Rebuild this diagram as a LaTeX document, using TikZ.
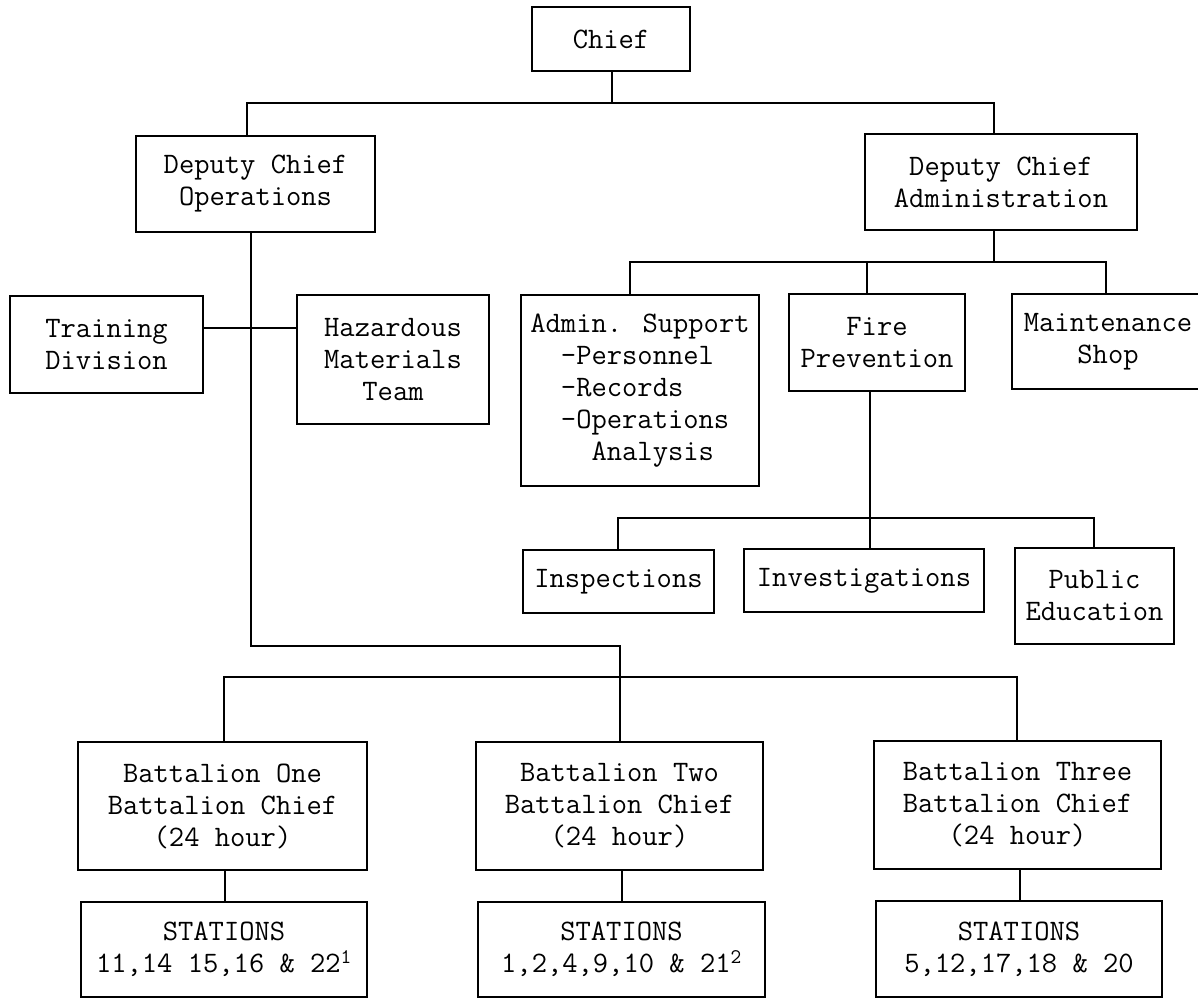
\documentclass[tikz,border=0pt]{standalone}
\usepackage{tikz}
\usetikzlibrary{calc}

\begin{document}
\begin{tikzpicture}[
    x=1pt,
    y=-1pt,
    setor/.style={
        draw,
        line width=1.8pt,
        inner sep=0pt,
        outer sep=0pt,
        anchor=north west,
        align=center,
        font=\fontsize{29.7}{32}\selectfont\ttfamily
    },
    linha/.style={
        line width=1.4pt
    }
]

\useasboundingbox (0,0) rectangle (1198,998);

% ---------------- Chief ----------------

\node[setor, minimum width=158pt, minimum height=64pt] (chief) at (532,7) {Chief};

\node[setor, minimum width=239pt, minimum height=96pt] (dco) at (136,136)
{Deputy Chief\\Operations};

\node[setor, minimum width=272pt, minimum height=96pt] (dca) at (865,134)
{Deputy Chief\\Administration};

\coordinate (jchief) at (612,103);
\coordinate (jdco) at (247,103);
\coordinate (jdca) at (994,103);

\draw[linha] (jchief |- chief.south) -- (jchief);
\draw[linha] (jdco |- dco.north) -- (jdco) -- (jdca) -- (jdca |- dca.north);

% ---------------- Operations ----------------

\node[setor, minimum width=193pt, minimum height=97pt] (train) at (10,296)
{Training\\Division};

\node[setor, minimum width=192pt, minimum height=129pt] (hazmat) at (297,295)
{Hazardous\\Materials\\Team};

\coordinate (jlink) at (251,328);

\draw[linha] (train.east |- jlink) -- (hazmat.west |- jlink);

% ---------------- Administration ----------------

\node[setor, align=left, minimum width=238pt, minimum height=191pt] (admin) at (521,295)
{Admin. Support\\
 \phantom{xx}-Personnel\\
 \phantom{xx}-Records\\
 \phantom{xx}-Operations\\
 \phantom{xxxx}Analysis};

\node[setor, minimum width=176pt, minimum height=97pt] (fireprev) at (789,294)
{Fire\\Prevention};

\node[setor, minimum width=212pt, minimum height=95pt] (maint) at (1012,294)
{Maintenance\hspace*{20pt}\\Shop\hspace*{20pt}};

\coordinate (jdcabus) at (994,262);
\coordinate (jadmin) at (630,262);
\coordinate (jfire) at (867,262);
\coordinate (jmaint) at (1106,262);

\draw[linha] (jdcabus |- dca.south) -- (jdcabus);
\draw[linha] (jadmin |- admin.north) -- (jadmin) -- (jmaint) -- (jmaint |- maint.north);
\draw[linha] (jfire) -- (jfire |- fireprev.north);

% ---------------- Fire Prevention ----------------

\node[setor, minimum width=191pt, minimum height=63pt] (insp) at (523,550)
{Inspections};

\node[setor, minimum width=240pt, minimum height=63pt] (invest) at (744,549)
{Investigations};

\node[setor, minimum width=159pt, minimum height=96pt] (pubed) at (1015,548)
{Public\\Education};

\coordinate (jfirebus) at (870,518);
\coordinate (jinsp) at (618,518);
\coordinate (jpubed) at (1094,518);

\draw[linha] (jfirebus |- fireprev.south) -- (jfirebus |- invest.north);
\draw[linha] (jinsp |- insp.north) -- (jinsp) -- (jpubed) -- (jpubed |- pubed.north);

% ---------------- Battalions ----------------

\node[setor, minimum width=289pt, minimum height=128pt] (bat1) at (78,742)
{Battalion One\\Battalion Chief\\(24 hour)};

\node[setor, minimum width=287pt, minimum height=128pt] (bat2) at (476,742)
{Battalion Two\\Battalion Chief\\(24 hour)};

\node[setor, minimum width=287pt, minimum height=128pt] (bat3) at (874,741)
{Battalion Three\\Battalion Chief\\(24 hour)};

\node[setor, minimum width=286pt, minimum height=95pt] (sta1) at (81,902)
{STATIONS\\11,14 15,16 \& 22\textsuperscript{1}};

\node[setor, minimum width=287pt, minimum height=95pt] (sta2) at (478,902)
{STATIONS\\1,2,4,9,10 \& 21\textsuperscript{2}};

\node[setor, minimum width=286pt, minimum height=96pt] (sta3) at (876,901)
{STATIONS\\5,12,17,18 \& 20};

\coordinate (jops) at (251,646);
\coordinate (jbat2) at (620,646);
\coordinate (jbat1) at (224,677);
\coordinate (jbat3) at (1017,677);

\draw[linha] (jops |- dco.south) -- (jops) -- (jbat2) -- (jbat2 |- bat2.north);
\draw[linha] (jbat1 |- bat1.north) -- (jbat1) -- (jbat3) -- (jbat3 |- bat3.north);

\foreach \b/\s in {bat1/sta1, bat2/sta2, bat3/sta3}
    \draw[linha] ([xshift=2.5pt]\b.south) -- ([xshift=2.5pt]\b.south |- \s.north);

\end{tikzpicture}
\end{document}
